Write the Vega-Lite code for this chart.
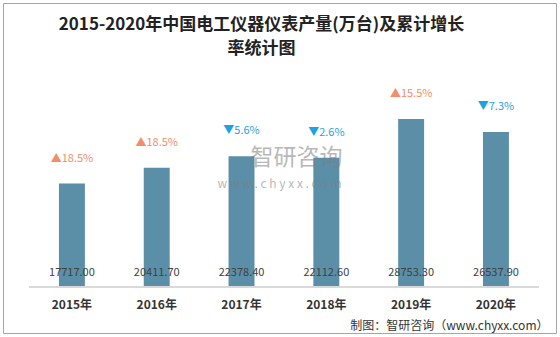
{
  "$schema": "https://vega.github.io/schema/vega-lite/v6.json",
  "width": 553,
  "height": 330,
  "autosize": {"type": "none"},
  "padding": {"left": 3, "top": 3, "right": 4, "bottom": 4},
  "background": "white",
  "config": {
    "view": {"stroke": "#a6a6a6", "strokeWidth": 1},
    "font": "Noto Sans CJK SC"
  },
  "title": {
    "text": ["2015-2020年中国电工仪器仪表产量(万台)及累计增长", "率统计图"],
    "fontSize": 17,
    "lineHeight": 24,
    "font": "Noto Sans CJK SC",
    "fontWeight": "bold",
    "color": "#222222",
    "anchor": "middle",
    "frame": "group",
    "dx": -18,
    "offset": -55
  },
  "data": {
    "values": [
      {"year": "2015年", "output": 17717.00, "growth": "▲18.5%", "trend": "up"},
      {"year": "2016年", "output": 20411.70, "growth": "▲18.5%", "trend": "up"},
      {"year": "2017年", "output": 22378.40, "growth": "▼5.6%", "trend": "down"},
      {"year": "2018年", "output": 22112.60, "growth": "▼2.6%", "trend": "down"},
      {"year": "2019年", "output": 28753.30, "growth": "▲15.5%", "trend": "up"},
      {"year": "2020年", "output": 26537.90, "growth": "▼7.3%", "trend": "down"}
    ]
  },
  "encoding": {
    "x": {
      "field": "year",
      "type": "ordinal",
      "sort": null,
      "scale": {"paddingInner": 0.694, "paddingOuter": 0.6075, "align": 0.543},
      "axis": {
        "domain": false,
        "ticks": false,
        "tickSize": 0,
        "offset": -46,
        "labelAngle": 0,
        "labelPadding": 12,
        "labelFontSize": 12,
        "labelFontWeight": "bold",
        "labelColor": "#333333",
        "labelFont": "Noto Sans CJK SC",
        "title": "制图：智研咨询（www.chyxx.com）",
        "titleFont": "Noto Sans CJK SC",
        "titleFontSize": 12,
        "titleFontWeight": "normal",
        "titleColor": "#333333",
        "titleAnchor": "end",
        "titleAlign": "right",
        "titleBaseline": "middle",
        "titleX": 545,
        "titleY": 38
      }
    }
  },
  "layer": [
    {
      "mark": {"type": "bar", "color": "#5b8fa8"},
      "encoding": {
        "y": {
          "field": "output",
          "type": "quantitative",
          "scale": {"domain": [-7877, 48630], "nice": false, "zero": false},
          "axis": null
        },
        "y2": {"datum": 0}
      }
    },
    {
      "mark": {"type": "rule", "color": "#d9d9d9", "strokeWidth": 1.5},
      "encoding": {
        "x": {"datum": "2015年", "bandPosition": -1.15},
        "x2": {"datum": "2020年", "bandPosition": 2.15},
        "y": {"datum": 0}
      }
    },
    {
      "data": {"values": [{"wm": "智研咨询"}]},
      "mark": {"type": "text", "fontSize": 23, "color": "#7f7f7f", "opacity": 0.55, "baseline": "middle", "dx": 55},
      "encoding": {
        "x": {"datum": "2017年"},
        "y": {"datum": 22085},
        "text": {"field": "wm"}
      }
    },
    {
      "data": {"values": [{"wm": "w w w . c h y x x . c o m"}]},
      "mark": {"type": "text", "fontSize": 12, "color": "#7f7f7f", "opacity": 0.55, "baseline": "middle", "dx": 38},
      "encoding": {
        "x": {"datum": "2017年"},
        "y": {"datum": 17630},
        "text": {"field": "wm"}
      }
    },
    {
      "mark": {"type": "text", "fontSize": 11, "color": "#404040", "baseline": "middle", "dy": -14},
      "encoding": {
        "y": {"datum": 0},
        "text": {"field": "output", "type": "quantitative", "format": ".2f"}
      }
    },
    {
      "mark": {"type": "text", "fontSize": 11, "baseline": "middle", "dy": -25},
      "encoding": {
        "y": {"field": "output", "type": "quantitative"},
        "text": {"field": "growth"},
        "color": {
          "field": "trend",
          "type": "nominal",
          "scale": {"domain": ["up", "down"], "range": ["#f28e6b", "#1fa3df"]},
          "legend": null
        }
      }
    }
  ]
}
